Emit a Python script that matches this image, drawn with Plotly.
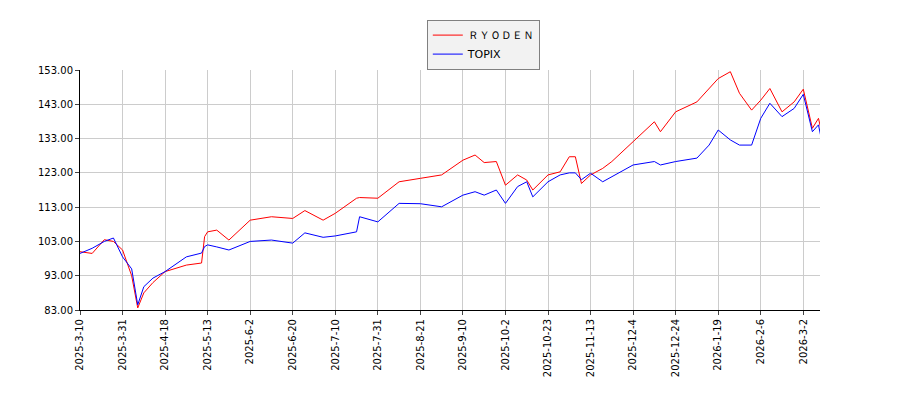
import plotly.graph_objects as go

# trading-day index of each sampled point
days = [0, 4, 8, 11, 14, 17, 19, 21, 24, 28, 35, 40, 41, 42, 45, 49, 56, 63, 70, 74, 80, 84,
        91, 92, 98, 105, 112, 119, 126, 130, 133, 137, 140, 144, 147, 149, 154, 158, 161, 163,
        165, 168, 172, 175, 182, 189, 191, 196, 203, 207, 210, 214, 217, 221, 224, 227, 231,
        235, 238, 241, 243, 244]

ryoden = [100.0, 99.5, 103.5, 103.0, 100.5, 93.0, 83.6, 88.0, 91.0, 94.2, 96.1, 96.7, 104.4,
          105.8, 106.3, 103.4, 109.2, 110.2, 109.7, 112.0, 109.2, 111.2,
          115.6, 115.8, 115.6, 120.4, 121.4, 122.4, 126.7, 128.2, 126.0, 126.3, 119.4, 122.4,
          120.9, 118.0, 122.4, 123.3, 127.7, 127.7, 119.9, 122.4, 124.3, 126.3, 132.1, 137.9,
          135.0, 140.8, 143.7, 147.6, 150.5, 152.5, 146.2, 141.3, 144.2, 147.6, 140.8, 143.7,
          147.4, 136.0, 138.9, 135.0]

topix = [99.5, 101.0, 103.0, 104.0, 98.5, 95.0, 84.5, 89.8, 92.3, 94.2, 98.5, 99.6, 101.5,
         102.0, 101.4, 100.5, 103.0, 103.4, 102.5, 105.5, 104.2, 104.6,
         105.8, 110.2, 108.7, 114.1, 114.0, 113.1, 116.5, 117.5, 116.5, 118.0, 114.1, 119.0,
         120.4, 116.0, 120.4, 122.4, 123.0, 123.0, 121.0, 122.9, 120.4, 121.9, 125.3, 126.3,
         125.3, 126.3, 127.3, 131.1, 135.5, 132.6, 131.1, 131.1, 138.9, 143.3, 139.4, 141.8,
         145.9, 135.0, 137.0, 132.6]

tick_labels = ["2025-3-10", "2025-3-31", "2025-4-18", "2025-5-13", "2025-6-2", "2025-6-20",
               "2025-7-10", "2025-7-31", "2025-8-21", "2025-9-10", "2025-10-2", "2025-10-23",
               "2025-11-13", "2025-12-4", "2025-12-24", "2026-1-19", "2026-2-6", "2026-3-2"]
tick_days = [i * 14 for i in range(len(tick_labels))]
y_ticks = [83, 93, 103, 113, 123, 133, 143, 153]

fig = go.Figure()
fig.add_trace(go.Scatter(x=days, y=ryoden, mode="lines", name="ＲＹＯＤＥＮ",
                         line=dict(color="red", width=1)))
fig.add_trace(go.Scatter(x=days, y=topix, mode="lines", name="TOPIX",
                         line=dict(color="blue", width=1)))

fig.update_layout(
    width=900, height=400,
    margin=dict(l=72, r=88, t=62, b=98),
    plot_bgcolor="white", paper_bgcolor="white",
    font=dict(family="DejaVu Sans", size=10, color="black"),
    showlegend=True,
    legend=dict(x=0.545, y=1.21, xanchor="center", yanchor="top",
                bgcolor="#f2f2f2", bordercolor="#808080", borderwidth=1,
                font=dict(size=11), tracegroupgap=0),
    xaxis=dict(range=[0, 243.5], tickvals=tick_days, ticktext=tick_labels,
               tickangle=-90, showgrid=True, gridcolor="#cccccc", automargin=False,
               showline=True, linecolor="black", ticks="outside", ticklen=4,
               zeroline=False),
    yaxis=dict(range=[83, 153], tickvals=y_ticks,
               ticktext=[f"{v:.2f}" for v in y_ticks], automargin=False,
               showgrid=True, gridcolor="#cccccc",
               showline=True, linecolor="black", ticks="outside", ticklen=4,
               zeroline=False),
)

fig.write_html("out.html")
